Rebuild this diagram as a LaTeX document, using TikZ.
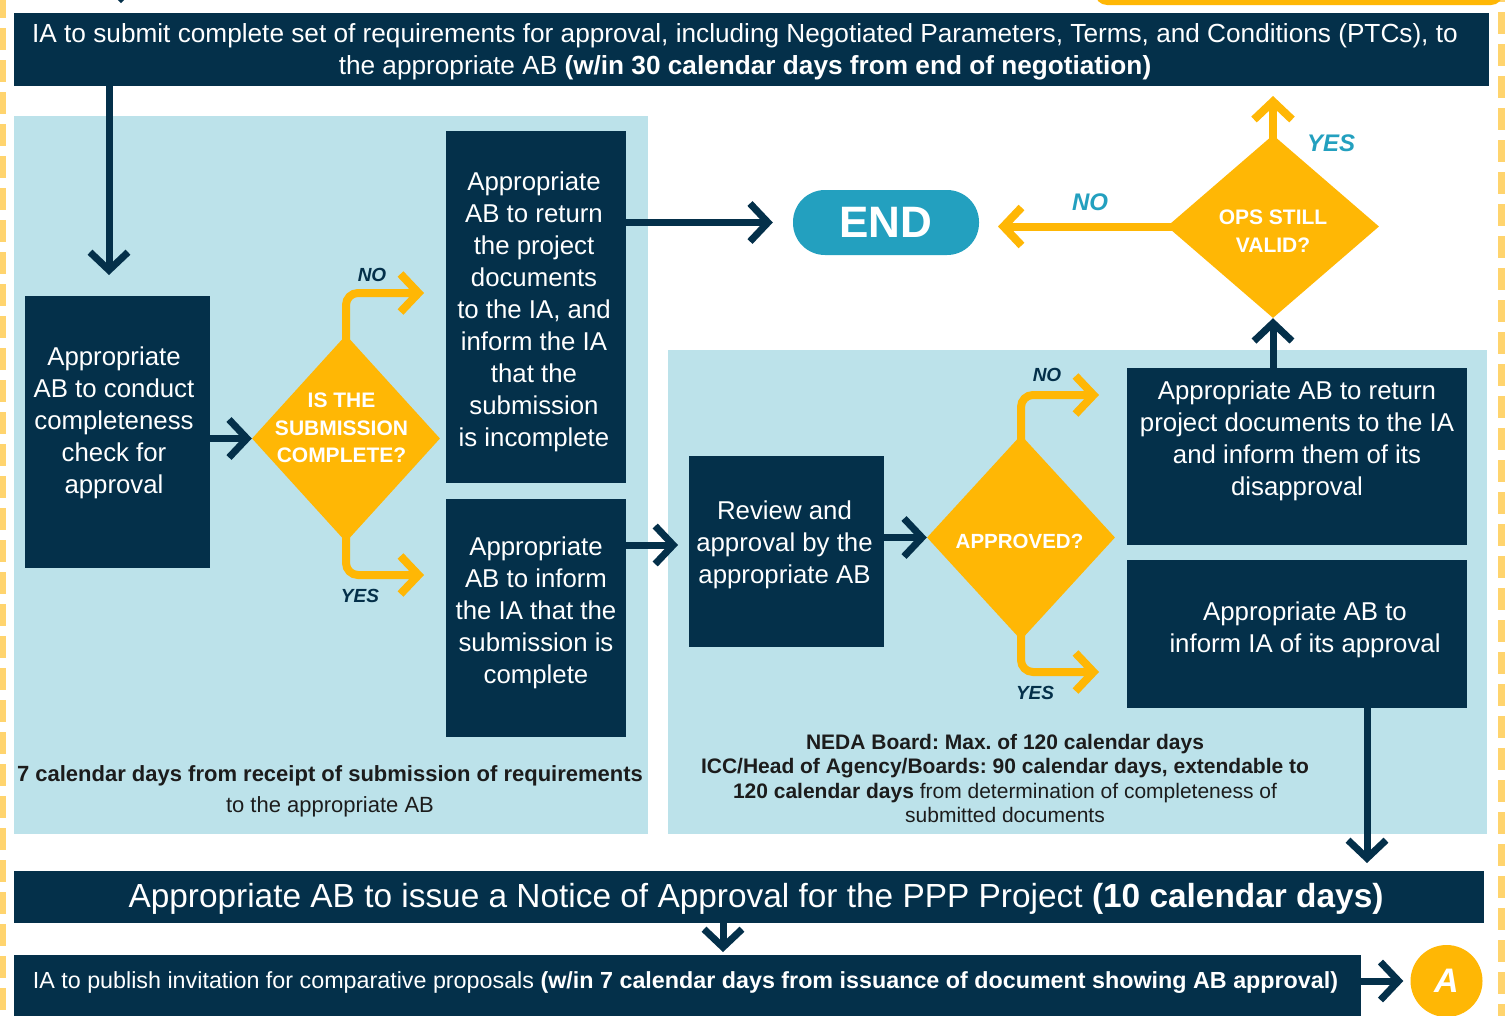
\documentclass[tikz,border=0pt]{standalone}
\usepackage{fontspec}
\setmainfont{Liberation Sans}
\usetikzlibrary{shapes.geometric,arrows.meta}
\definecolor{navy}{HTML}{04304A}
\definecolor{panel}{HTML}{BCE2EA}
\definecolor{gold}{HTML}{FFB705}
\definecolor{tealc}{HTML}{23A0BF}
\definecolor{paleY}{HTML}{FFD46E}
\definecolor{ink}{HTML}{1C1C1C}
\frenchspacing
\newcommand\fs[2]{\fontsize{#1}{#2}\selectfont}
\newcommand\zbox[3]{\raisebox{\dimexpr#2-0.25em\relax}[0pt][0pt]{\makebox[0pt]{\hspace*{#1}\hspace*{#1}\begin{tabular}{@{}c@{}}#3\end{tabular}}}}
\begin{document}
\begin{tikzpicture}[x=1pt,y=-1pt,
  box/.style={fill=navy,text=white,inner sep=0pt,font=\fs{25.8}{32}},
  panelbox/.style={fill=panel,inner sep=0pt},
  dec/.style={diamond,fill=gold,text=white,inner sep=0pt,font=\bfseries\fs{21}{27.5}},
  note/.style={text=ink,inner sep=0pt,align=center},
  lbl/.style={font=\bfseries\itshape\fs{19}{22},text=navy,inner sep=0pt},
  tlbl/.style={font=\bfseries\itshape\fs{24}{28},text=tealc,inner sep=0pt},
  tiparrow/.style={-{Straight Barb[length=18pt,width=38pt]}},
  darr/.style={draw=navy,line width=7pt,tiparrow},
  yarr/.style={draw=gold,line width=8pt,tiparrow,rounded corners=12pt}]
\useasboundingbox (0,0) rectangle (1511,1015);
\clip (0,0) rectangle (1511,1015);
\fill[white] (0,0) rectangle (1511,1015);
% decorations from the cut-off surroundings
\draw[paleY,line width=6pt,dash pattern=on 22pt off 10pt] (3,-4) -- (3,1040);
\draw[paleY,line width=7pt,dash pattern=on 22pt off 10pt] (1501.5,-20) -- (1501.5,1040);
\fill[gold,rounded corners=12pt] (1095,-30) rectangle (1503,5);
\coordinate (ttop) at (121,3);
\draw[darr] ([yshift=43pt]ttop) -- (ttop);
% panels
\node[panelbox,minimum width=634pt,minimum height=718pt] (pl) at (331,475) {};
\node[panelbox,minimum width=819pt,minimum height=484pt] (pr) at (1077.5,592) {};
% top bar
\node[box,minimum width=1475pt,minimum height=73pt,font=\fs{26.2}{32}] (top) at (751.5,49.5)
  {\zbox{-6.5pt}{-2pt}{IA to submit complete set of requirements for approval, including Negotiated Parameters, Terms, and Conditions (PTCs), to\\the appropriate AB \textbf{(w/in 30 calendar days from end of negotiation)}}};
% boxes
\node[box,minimum width=185pt,minimum height=272pt] (b1) at (117.5,432)
  {\zbox{-3.5pt}{9pt}{Appropriate\\AB to conduct\\completeness\\check for\\approval}};
\node[dec,minimum width=188pt,minimum height=207pt] (d1) at (346,438.5)
  {\zbox{-4.5pt}{9pt}{IS THE\\SUBMISSION\\COMPLETE?}};
\node[box,minimum width=180pt,minimum height=352pt] (b2) at (536,307)
  {\zbox{-2pt}{-4.5pt}{Appropriate\\AB to return\\the project\\documents\\to the IA, and\\inform the IA\\that the\\submission\\is incomplete}};
\node[box,minimum width=180pt,minimum height=238pt] (b3) at (536,618)
  {\zbox{0pt}{5.5pt}{Appropriate\\AB to inform\\the IA that the\\submission is\\complete}};
\node[fill=tealc,rounded corners=32pt,minimum width=186pt,minimum height=65pt,text=white,font=\bfseries\fs{44}{50},inner sep=0pt] (end) at (886,222.5) {END};
\node[dec,minimum width=212pt,minimum height=183pt] (d3) at (1273,226.5)
  {\zbox{0pt}{-6.5pt}{OPS STILL\\VALID?}};
\node[box,minimum width=195pt,minimum height=191pt] (rv) at (786.5,551.5)
  {\zbox{-2pt}{6.5pt}{Review and\\approval by the\\appropriate AB}};
\node[dec,minimum width=188pt,minimum height=205pt,font=\bfseries\fs{20.5}{28}] (d2) at (1021,537.5)
  {\zbox{-1.5pt}{-5.5pt}{APPROVED?}};
\node[box,minimum width=340pt,minimum height=177pt] (b4) at (1297,456.5)
  {\zbox{0pt}{15.5pt}{Appropriate AB to return\\project documents to the IA\\and inform them of its\\disapproval}};
\node[box,minimum width=340pt,minimum height=148pt] (b5) at (1297,633.5)
  {\zbox{8pt}{3.5pt}{Appropriate AB to\\inform IA of its approval}};
% notes
\node[note,font=\fs{22}{31}] (n1) at (330,791)
  {\textbf{7 calendar days from receipt of submission of requirements}\\to the appropriate AB};
\node[note,font=\fs{21}{24.3}] (n2) at (1005,778.5)
  {\textbf{NEDA Board: Max. of 120 calendar days}\\\textbf{ICC/Head of Agency/Boards: 90 calendar days, extendable to}\\\textbf{120 calendar days} from determination of completeness of\\submitted documents};
% bottom bars
\node[box,minimum width=1470pt,minimum height=52pt,font=\fs{33.4}{36}] (nt) at (749,896.5)
  {\zbox{7pt}{-1.5pt}{Appropriate AB to issue a Notice of Approval for the PPP Project \textbf{(10 calendar days)}}};
\node[box,minimum width=1347pt,minimum height=62pt,font=\fs{23.3}{26}] (pb) at (687.5,986)
  {\zbox{-2pt}{2pt}{IA to publish invitation for comparative proposals \textbf{(w/in 7 calendar days from issuance of document showing AB approval)}}};
\node[circle,fill=gold,minimum size=72pt,inner sep=0pt,text=white,font=\bfseries\itshape\fs{34}{36}] (A) at (1446.5,981) {A};
% labels
\node[lbl] (no1) at (372,275) {NO};
\node[lbl] (yes1) at (360,596) {YES};
\node[lbl] (no2) at (1047,375) {NO};
\node[lbl] (yes2) at (1035,693) {YES};
\node[tlbl] (no3) at (1090,202) {NO};
\node[tlbl] (yes3) at (1331,143) {YES};
% tip coordinates
\coordinate (t0) at (109,275);
\coordinate (tno1) at (424,293);
\coordinate (tyes1) at (424,575);
\coordinate (tno2) at (1099,395);
\coordinate (tyes2) at (1099,672);
\coordinate (tyes3) at (1271,96);
\coordinate (tend) at (998,223);
\coordinate (trv) at (678,545);
\coordinate (tb5) at (1367,863);
\coordinate (tnt) at (723,952);
% connectors
\draw[darr] (top.south -| t0) -- (t0);
\draw[darr] (b1.east |- d1.west) -- (d1.west);
\draw[yarr] ([yshift=-10pt]d1.north) |- (tno1);
\draw[yarr] ([yshift=10pt]d1.south) |- (tyes1);
\draw[darr] (b2.east |- end.west) -- ([xshift=-20pt]end.west);
\draw[yarr] ([xshift=10pt]d3.west) -- (d3.west -| tend);
\draw[yarr] ([yshift=-10pt]d3.north) -- (d3.north |- tyes3);
\draw[darr] (b3.east |- trv) -- (trv);
\draw[darr] (rv.east |- d2.west) -- (d2.west);
\draw[yarr] ([yshift=-10pt]d2.north) |- (tno2);
\draw[yarr] ([yshift=10pt]d2.south) |- (tyes2);
\draw[darr] (b4.north -| d3.south) -- (d3.south);
\draw[darr] (b5.south -| tb5) -- (tb5);
\draw[darr] (nt.south -| tnt) -- (tnt);
\draw[darr] (pb.east |- A.west) -- ([xshift=-7pt]A.west);
\end{tikzpicture}
\end{document}
